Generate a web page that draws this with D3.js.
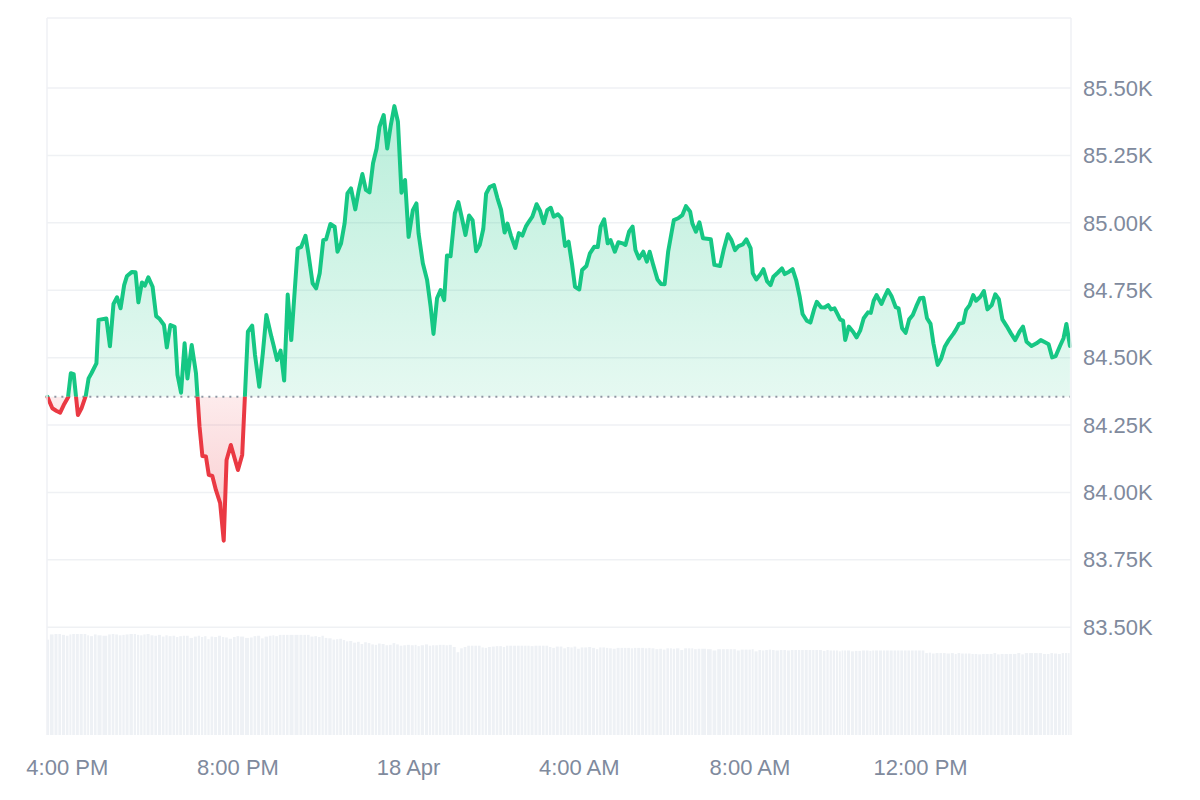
<!DOCTYPE html>
<html>
<head>
<meta charset="utf-8">
<script src="https://cdn.jsdelivr.net/npm/d3@7"></script>
<style>
  html, body { margin: 0; padding: 0; background: #fff; }
  svg { display: block; }
  text { font-family: "Liberation Sans", Arial, sans-serif; }
</style>
</head>
<body>
<svg id="chart" width="1200" height="800"></svg>
<script>
// BTC price, 17-18 Apr, 5 min samples
const startTime = new Date(2025, 3, 17, 15, 32);

// minutes after startTime for each sample
const minutesFromStart = [
    0, 7, 13, 18, 23, 29, 33, 37, 43, 48,
    54, 58, 62, 69, 72, 83, 88, 93, 98, 103,
    108, 112, 119, 124, 128, 133, 137, 142, 148, 153,
    158, 164, 168, 173, 179, 183, 188, 193, 197, 203,
    209, 214, 218, 223, 227, 232, 237, 243, 248, 252,
    258, 264, 268, 274, 282, 288, 292, 298, 303, 308,
    315, 318, 323, 328, 333, 338, 343, 352, 357, 363,
    367, 373, 378, 383, 388, 392, 398, 404, 408, 413,
    418, 422, 427, 433, 438, 443, 448, 453, 458, 463,
    467, 473, 478, 483, 488, 493, 498, 503, 508, 514,
    519, 522, 528, 534, 539, 543, 548, 553, 558, 562,
    567, 573, 578, 583, 588, 593, 598, 603, 608, 613,
    617, 622, 628, 633, 638, 643, 647, 652, 658, 663,
    668, 673, 677, 682, 688, 693, 698, 703, 708, 712,
    718, 723, 728, 733, 738, 742, 748, 752, 758, 763,
    769, 774, 778, 783, 788, 792, 798, 803, 809, 813,
    818, 823, 827, 832, 838, 843, 847, 852, 858, 863,
    868, 873, 878, 881, 887, 893, 898, 904, 907, 912,
    917, 922, 933, 938, 946, 951, 957, 962, 967, 972,
    978, 983, 989, 992, 997, 1003, 1007, 1012, 1017, 1021,
    1027, 1033, 1037, 1043, 1048, 1053, 1058, 1062, 1068, 1073,
    1078, 1082, 1088, 1093, 1098, 1102, 1107, 1111, 1115, 1119,
    1122, 1127, 1133, 1138, 1143, 1148, 1154, 1158, 1162, 1166,
    1173, 1177, 1182, 1187, 1193, 1197, 1202, 1207, 1212, 1217,
    1222, 1227, 1232, 1237, 1242, 1246, 1252, 1257, 1262, 1267,
    1274, 1278, 1282, 1288, 1292, 1297, 1302, 1306, 1312, 1317,
    1322, 1328, 1333, 1338, 1343, 1349, 1355, 1361, 1367, 1372,
    1377, 1384, 1391, 1397, 1403, 1408, 1413, 1418, 1424, 1429,
    1433, 1438
];

// price in USD
const prices = [
    84355, 84312, 84302, 84296, 84324, 84352, 84442, 84439, 84287, 84312,
    84358, 84423, 84442, 84479, 84640, 84645, 84542, 84699, 84724, 84683,
    84769, 84803, 84818, 84817, 84705, 84779, 84767, 84798, 84763, 84654,
    84643, 84621, 84538, 84621, 84614, 84436, 84370, 84553, 84423, 84547,
    84442, 84244, 84135, 84133, 84065, 84061, 84009, 83960, 83821, 84120,
    84176, 84120, 84083, 84139, 84596, 84619, 84510, 84392, 84516, 84658,
    84578, 84547, 84491, 84526, 84415, 84734, 84565, 84905, 84911, 84952,
    84887, 84776, 84757, 84813, 84936, 84939, 84996, 84986, 84893, 84924,
    84998, 85109, 85128, 85050, 85122, 85181, 85122, 85113, 85221, 85276,
    85356, 85400, 85276, 85363, 85433, 85375, 85112, 85159, 84948, 85047,
    85072, 84961, 84850, 84788, 84689, 84588, 84720, 84751, 84713, 84879,
    84876, 85035, 85077, 85017, 84955, 85027, 85010, 84895, 84918, 84977,
    85108, 85133, 85140, 85091, 85049, 84964, 84997, 84952, 84907, 84962,
    84953, 84987, 85004, 85023, 85069, 85044, 84999, 85047, 85056, 85023,
    85032, 85017, 84914, 84930, 84844, 84763, 84753, 84825, 84840, 84887,
    84911, 84910, 84986, 85013, 84924, 84936, 84893, 84928, 84924, 84918,
    84967, 84986, 84899, 84868, 84893, 84856, 84893, 84844, 84790, 84773,
    84772, 84893, 84967, 85010, 85017, 85029, 85062, 85041, 84998, 84967,
    85002, 84943, 84939, 84844, 84840, 84899, 84958, 84936, 84899, 84914,
    84920, 84939, 84905, 84813, 84790, 84810, 84828, 84784, 84769, 84800,
    84815, 84831, 84810, 84819, 84828, 84788, 84726, 84662, 84637, 84630,
    84677, 84707, 84687, 84686, 84695, 84679, 84683, 84662, 84641, 84637,
    84565, 84615, 84596, 84575, 84600, 84646, 84668, 84666, 84711, 84732,
    84699, 84724, 84751, 84729, 84687, 84683, 84609, 84592, 84642, 84658,
    84691, 84720, 84722, 84646, 84625, 84553, 84473, 84497, 84540, 84563,
    84588, 84605, 84625, 84630, 84677, 84695, 84732, 84711, 84726, 84747,
    84679, 84695, 84735, 84717, 84642, 84617, 84590, 84565, 84596, 84615,
    84559, 84543, 84553, 84565, 84557, 84550, 84501, 84506, 84543, 84572,
    84625, 84543
];

// volume, billions USD
const volumesB = [
    22.0, 23.2, 23.3, 23.3, 23.1, 22.9, 23.2, 23.3, 23.3, 23.3, 23.3, 23.0, 22.8, 23.2, 23.0, 22.9, 23.2, 23.3, 23.2, 23.0,
    23.1, 23.2, 23.3, 23.3, 23.1, 23.0, 23.2, 23.3, 23.0, 22.9, 23.1, 22.7, 23.0, 22.8, 22.9, 22.6, 22.8, 22.9, 22.9, 22.4,
    22.7, 22.9, 22.6, 22.8, 22.1, 22.7, 22.6, 22.9, 22.6, 22.5, 22.2, 22.6, 22.8, 22.7, 22.4, 22.5, 22.8, 22.9, 22.3, 22.7,
    22.9, 23.0, 22.8, 23.1, 23.1, 23.1, 23.1, 23.1, 23.1, 23.1, 23.1, 22.7, 22.8, 22.6, 22.9, 22.4, 22.3, 22.0, 22.1, 22.2,
    21.9, 21.6, 21.7, 21.3, 21.5, 21.0, 21.4, 21.2, 20.9, 20.8, 21.1, 21.0, 20.7, 20.8, 21.2, 20.9, 20.6, 20.7, 20.8, 20.7,
    20.8, 20.5, 20.7, 20.9, 20.6, 20.7, 20.7, 20.8, 20.8, 20.7, 20.8, 20.3, 19.1, 20.0, 20.3, 20.6, 20.6, 20.6, 20.6, 20.2,
    20.1, 20.3, 20.4, 20.5, 20.5, 20.3, 20.6, 20.6, 20.6, 20.6, 20.6, 20.6, 20.6, 20.5, 20.6, 20.6, 20.6, 20.6, 20.3, 20.1,
    20.4, 20.4, 20.0, 20.3, 20.2, 20.4, 19.9, 20.2, 20.2, 20.3, 20.1, 19.8, 20.2, 20.2, 20.1, 20.0, 19.9, 20.1, 20.1, 20.1,
    20.1, 20.0, 20.1, 20.1, 20.1, 20.0, 20.1, 20.0, 19.8, 19.9, 19.7, 20.0, 20.0, 19.9, 20.0, 19.6, 20.0, 20.0, 20.0, 19.8,
    19.9, 19.9, 19.8, 19.5, 19.8, 19.8, 19.8, 19.8, 19.8, 19.5, 19.7, 19.7, 19.7, 19.8, 19.3, 19.6, 19.5, 19.6, 19.7, 19.6,
    19.5, 19.6, 19.6, 19.5, 19.6, 19.6, 19.6, 19.6, 19.6, 19.6, 19.6, 19.6, 19.6, 19.4, 19.6, 19.5, 19.5, 19.5, 19.3, 19.5,
    19.5, 19.5, 19.3, 19.4, 19.4, 19.5, 19.5, 19.4, 19.5, 19.5, 19.5, 19.5, 19.5, 19.5, 19.5, 19.5, 19.5, 19.5, 19.5, 19.5,
    19.5, 19.5, 19.5, 18.9, 19.0, 18.8, 18.9, 18.9, 18.9, 18.8, 18.9, 18.7, 18.9, 18.8, 18.8, 18.8, 18.7, 18.7, 18.6, 18.7,
    18.7, 18.7, 18.9, 18.6, 18.7, 18.7, 18.7, 18.7, 18.9, 18.6, 18.9, 18.9, 18.9, 18.9, 18.7, 18.7, 18.9, 18.8, 18.7, 18.9,
    18.9, 18.9
];

const yTickValues = [83500, 83750, 84000, 84250, 84500, 84750, 85000, 85250, 85500];
const yDomain = [83100, 85760];

// Colors
const GREEN = '#16c784';
const RED = '#ea3943';
const GRID = '#eff1f4';
const LABEL = '#808a9d';

// Layout
const W = 1200, H = 800;
const plot = { left: 47, right: 1071, top: 18, bottom: 735 };
const VOL_MAX_H = 101;
const FONT_SIZE = 22;

const svg = d3.select('#chart');

const points = prices.map((p, i) => ({
    t: new Date(startTime.getTime() + minutesFromStart[i] * 60000),
    p,
    v: volumesB[i]
}));

const domainStart = new Date(startTime.getTime() - 30 * 1000);
const domainEnd = new Date(domainStart.getTime() + 24 * 3600 * 1000);

const x = d3.scaleTime().domain([domainStart, domainEnd]).range([plot.left, plot.right]);
const y = d3.scaleLinear().domain(yDomain).range([plot.bottom, plot.top]);
const vScale = d3.scaleLinear().domain([0, d3.max(volumesB)]).range([0, VOL_MAX_H]);

const basePrice = prices[0];
const yBase = y(basePrice);

// Gridlines
svg.append('g').attr('class', 'grid')
    .selectAll('line')
    .data(yTickValues)
    .join('line')
    .attr('x1', plot.left).attr('x2', plot.right)
    .attr('y1', d => y(d)).attr('y2', d => y(d))
    .attr('stroke', GRID).attr('stroke-width', 1.5);

// Volume bars: each bar spans half-way to its neighbours
const BAR_GAP = 0.9;
const barEdges = points.map((d, i) => {
    const cx = x(d.t);
    const prev = i > 0 ? x(points[i - 1].t) : cx - 3.6;
    const next = i < points.length - 1 ? x(points[i + 1].t) : Math.min(plot.right, cx + 3.6);
    return [(prev + cx) / 2, (cx + next) / 2];
});
svg.append('g').attr('class', 'volume')
    .selectAll('rect')
    .data(points)
    .join('rect')
    .attr('x', (d, i) => Math.max(plot.left, barEdges[i][0]))
    .attr('width', (d, i) => Math.max(0.5, barEdges[i][1] - Math.max(plot.left, barEdges[i][0]) - BAR_GAP))
    .attr('y', d => plot.bottom - vScale(d.v))
    .attr('height', d => vScale(d.v))
    .attr('fill', '#eef1f5');

// Gradients + clips
const defs = svg.append('defs');
const gUp = defs.append('linearGradient')
    .attr('id', 'gradUp').attr('gradientUnits', 'userSpaceOnUse')
    .attr('x1', 0).attr('x2', 0)
    .attr('y1', y(d3.max(prices))).attr('y2', yBase);
gUp.append('stop').attr('offset', '0%').attr('stop-color', GREEN).attr('stop-opacity', 0.3);
gUp.append('stop').attr('offset', '100%').attr('stop-color', GREEN).attr('stop-opacity', 0.11);

const gDown = defs.append('linearGradient')
    .attr('id', 'gradDown').attr('gradientUnits', 'userSpaceOnUse')
    .attr('x1', 0).attr('x2', 0)
    .attr('y1', yBase).attr('y2', y(d3.min(prices)));
gDown.append('stop').attr('offset', '0%').attr('stop-color', RED).attr('stop-opacity', 0.1);
gDown.append('stop').attr('offset', '100%').attr('stop-color', RED).attr('stop-opacity', 0.27);

defs.append('clipPath').attr('id', 'clipUp')
    .append('rect')
    .attr('x', 0).attr('y', 0).attr('width', W).attr('height', yBase);
defs.append('clipPath').attr('id', 'clipDown')
    .append('rect')
    .attr('x', 0).attr('y', yBase).attr('width', W).attr('height', H - yBase);

const area = d3.area()
    .x(d => x(d.t))
    .y0(yBase)
    .y1(d => y(d.p));
const line = d3.line()
    .x(d => x(d.t))
    .y(d => y(d.p));

svg.append('path').datum(points)
    .attr('d', area).attr('fill', 'url(#gradUp)').attr('clip-path', 'url(#clipUp)');
svg.append('path').datum(points)
    .attr('d', area).attr('fill', 'url(#gradDown)').attr('clip-path', 'url(#clipDown)');

// Baseline (opening price)
svg.append('line')
    .attr('x1', x(points[0].t)).attr('x2', x(points[points.length - 1].t))
    .attr('y1', yBase).attr('y2', yBase)
    .attr('stroke', '#8f96a3').attr('stroke-width', 2)
    .attr('stroke-dasharray', '2,5');

// Price line, green above / red below the open
[['url(#clipUp)', GREEN], ['url(#clipDown)', RED]].forEach(([clip, color]) => {
    svg.append('path').datum(points)
        .attr('d', line)
        .attr('fill', 'none')
        .attr('stroke', color)
        .attr('stroke-width', 4)
        .attr('stroke-linejoin', 'round')
        .attr('stroke-linecap', 'round')
        .attr('clip-path', clip);
});

// Frame
const frame = svg.append('g').attr('stroke', GRID).attr('stroke-width', 1.5);
frame.append('line').attr('x1', plot.left).attr('x2', plot.right).attr('y1', plot.top).attr('y2', plot.top);
frame.append('line').attr('x1', plot.left).attr('x2', plot.left).attr('y1', plot.top).attr('y2', plot.bottom);
frame.append('line').attr('x1', plot.right).attr('x2', plot.right).attr('y1', plot.top).attr('y2', plot.bottom);

// Y labels (right)
svg.append('g').attr('class', 'y-labels')
    .selectAll('text')
    .data(yTickValues)
    .join('text')
    .attr('x', plot.right + 12)
    .attr('y', d => y(d))
    .attr('dy', '0.35em')
    .attr('fill', LABEL)
    .attr('font-size', FONT_SIZE)
    .text(d => (d / 1000).toFixed(2) + 'K');

// X labels
const fmtHour = d3.timeFormat('%-I:%M %p');
const fmtDay = d3.timeFormat('%-d %b');
const xTicks = x.ticks(d3.timeHour.every(4));
svg.append('g').attr('class', 'x-labels')
    .selectAll('text')
    .data(xTicks)
    .join('text')
    .attr('x', d => x(d))
    .attr('y', 767)
    .attr('dy', '0.35em')
    .attr('text-anchor', 'middle')
    .attr('fill', LABEL)
    .attr('font-size', FONT_SIZE)
    .text(d => d.getHours() === 0 ? fmtDay(d) : fmtHour(d));
</script>
</body>
</html>
